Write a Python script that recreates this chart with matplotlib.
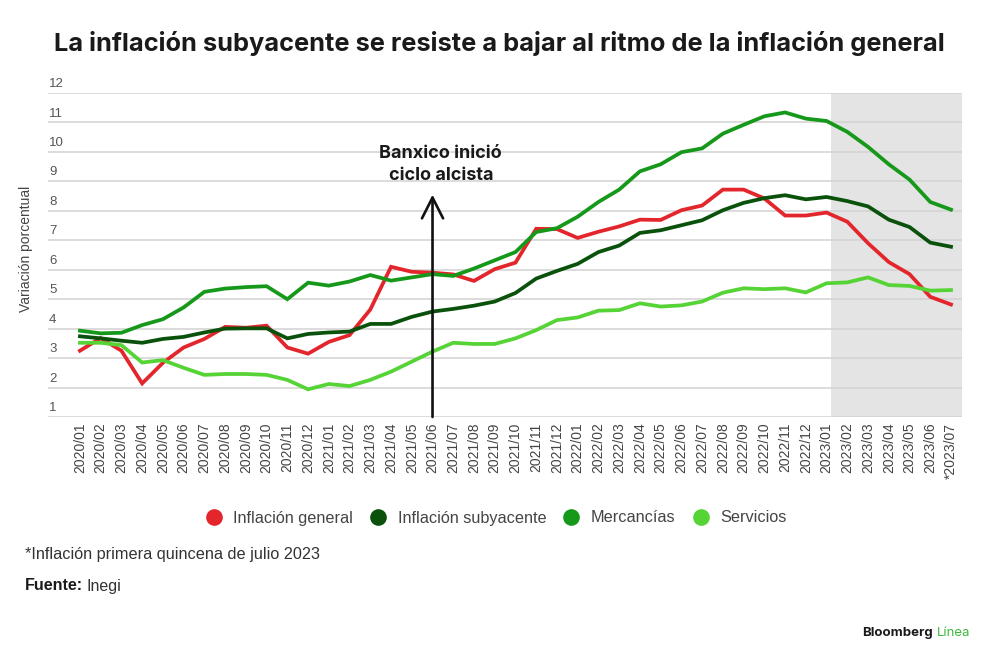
import matplotlib
matplotlib.use("Agg")
import matplotlib.pyplot as plt
from matplotlib.patches import Rectangle

# ---------------- data ----------------
months = ["2020/01","2020/02","2020/03","2020/04","2020/05","2020/06","2020/07","2020/08","2020/09","2020/10","2020/11","2020/12",
          "2021/01","2021/02","2021/03","2021/04","2021/05","2021/06","2021/07","2021/08","2021/09","2021/10","2021/11","2021/12",
          "2022/01","2022/02","2022/03","2022/04","2022/05","2022/06","2022/07","2022/08","2022/09","2022/10","2022/11","2022/12",
          "2023/01","2023/02","2023/03","2023/04","2023/05","2023/06","*2023/07"]

general = [3.25, 3.68, 3.25, 2.14, 2.84, 3.36, 3.65, 4.06, 4.03, 4.10, 3.36, 3.15,
           3.55, 3.78, 4.65, 6.10, 5.93, 5.90, 5.84, 5.62, 6.02, 6.24, 7.39, 7.38,
           7.08, 7.29, 7.47, 7.70, 7.69, 8.02, 8.18, 8.72, 8.72, 8.42, 7.84, 7.84,
           7.94, 7.63, 6.90, 6.26, 5.85, 5.08, 4.82]

subyacente = [3.74, 3.67, 3.59, 3.52, 3.65, 3.72, 3.87, 4.00, 4.01, 4.01, 3.67, 3.82,
              3.87, 3.90, 4.16, 4.16, 4.40, 4.58, 4.67, 4.78, 4.92, 5.21, 5.70, 5.96,
              6.20, 6.60, 6.82, 7.25, 7.34, 7.51, 7.68, 8.02, 8.27, 8.43, 8.53, 8.39,
              8.47, 8.33, 8.15, 7.70, 7.45, 6.92, 6.78]

mercancias = [3.93, 3.84, 3.86, 4.12, 4.32, 4.72, 5.25, 5.36, 5.41, 5.44, 5.00, 5.56,
              5.46, 5.60, 5.82, 5.63, 5.74, 5.85, 5.79, 6.04, 6.32, 6.60, 7.28, 7.41,
              7.80, 8.30, 8.72, 9.34, 9.58, 9.99, 10.12, 10.62, 10.92, 11.21, 11.34, 11.13,
              11.05, 10.68, 10.17, 9.58, 9.06, 8.30, 8.04]

servicios = [3.52, 3.52, 3.44, 2.85, 2.93, 2.67, 2.43, 2.46, 2.46, 2.43, 2.26, 1.94,
             2.12, 2.05, 2.26, 2.54, 2.88, 3.22, 3.52, 3.48, 3.48, 3.67, 3.95, 4.29,
             4.38, 4.61, 4.63, 4.86, 4.75, 4.79, 4.92, 5.22, 5.37, 5.34, 5.37, 5.23,
             5.54, 5.57, 5.74, 5.48, 5.45, 5.29, 5.31]

series_names = ["Inflación general", "Inflación subyacente", "Mercancías", "Servicios"]
series_values = [general, subyacente, mercancias, servicios]
series_colors = ["#e3262c", "#0a520c", "#16981a", "#56d335"]

y_ticks = list(range(1, 13))
arrow_index = months.index("2021/06")
arrow_top = 8.55
shade_start = 36.2

# ---------------- figure ----------------
W, H = 1000, 666
fig = plt.figure(figsize=(W / 100, H / 100), dpi=100)
fig.patch.set_facecolor("white")

ax_left, ax_right, ax_top, ax_bottom = 48, 962, 93, 417
ax = fig.add_axes([ax_left / W, 1 - ax_bottom / H, (ax_right - ax_left) / W, (ax_bottom - ax_top) / H])

x = list(range(len(months)))
x_lo = -1.54
x_hi = 42.53
ax.set_xlim(x_lo, x_hi)
ax.set_ylim(1, 12)

# shaded region
ax.add_patch(Rectangle((shade_start, 1), x_hi - shade_start, 11, facecolor="#e4e4e4",
                       edgecolor="none", zorder=0))

# gridlines
for v in y_ticks:
    ax.axhline(v, color="#d2d2d2", lw=1.1, zorder=1)
    ax.text(x_lo + 0.05, v + 0.1, str(v), ha="left", va="bottom", fontsize=9.5,
            color="#555555", family="Liberation Sans", zorder=5)

for vals, col, name in zip(series_values, series_colors, series_names):
    ax.plot(x, vals, color=col, lw=2.7, solid_joinstyle="miter", zorder=3, label=name)

# arrow annotation
ax.annotate("", xy=(arrow_index, arrow_top), xytext=(arrow_index, 1),
            arrowprops=dict(arrowstyle="->,head_length=0.75,head_width=0.38", color="#111111",
                            lw=1.9, mutation_scale=20, shrinkA=0, shrinkB=0),
            zorder=6)
ax.text(arrow_index + 0.4, 9.56, "Banxico inició\nciclo alcista", ha="center", va="center",
        fontsize=13, fontweight="bold", color="#1a1a1a", family="Inter", linespacing=1.4)

ax.set_xticks(x)
ax.set_xticklabels(months, rotation=90, fontsize=10, color="#444444", family="Liberation Sans")
ax.tick_params(axis="x", length=0, pad=4)
ax.set_yticks([])
for s in ax.spines.values():
    s.set_visible(False)
ax.set_facecolor("none")

ax.set_ylabel("Variación porcentual", fontsize=10, color="#444444", family="Liberation Sans",
              labelpad=2)
ax.yaxis.set_label_coords(-0.0165, 0.52)

# title
fig.text(0.499, 1 - 43 / H, "La inflación subyacente se resiste a bajar al ritmo de la inflación general",
         ha="center", va="center", fontsize=18.3, fontweight="bold", color="#1a1a1a", family="Inter")

# legend
handles = [plt.Line2D([], [], marker="o", ls="none", markersize=12, markerfacecolor=c,
                      markeredgecolor="none") for c in series_colors]
fig.legend(handles, series_names, loc="center", bbox_to_anchor=(0.492, 1 - 518 / H), ncol=4,
           frameon=False, handletextpad=0.2, columnspacing=0.55,
           prop=dict(family="Liberation Sans", size=11.7), labelcolor="#444444")

# footer
fig.text(25 / W, 1 - 555 / H, "*Inflación primera quincena de julio 2023", ha="left", va="center",
         fontsize=11.7, color="#333333", family="Liberation Sans")
t = fig.text(25 / W, 1 - 586 / H, "Fuente:", ha="left", va="center", fontsize=11.5,
             fontweight="bold", color="#1a1a1a", family="Liberation Sans")
fig.canvas.draw()
bb = t.get_window_extent()
fig.text((bb.x1 + 3) / W, 1 - 586 / H, "Inegi", ha="left", va="center", fontsize=11.5,
         color="#333333", family="Liberation Sans")

t2 = fig.text(862 / W, 1 - 633 / H, "Bloomberg", ha="left", va="center", fontsize=9.5,
              fontweight="bold", color="#1a1a1a", family="Inter")
fig.canvas.draw()
bb2 = t2.get_window_extent()
fig.text((bb2.x1 + 4) / W, 1 - 633 / H, "Línea", ha="left", va="center", fontsize=9.5,
         color="#3cb83c", family="Inter")

fig.savefig("out.png", dpi=100, facecolor="white")
